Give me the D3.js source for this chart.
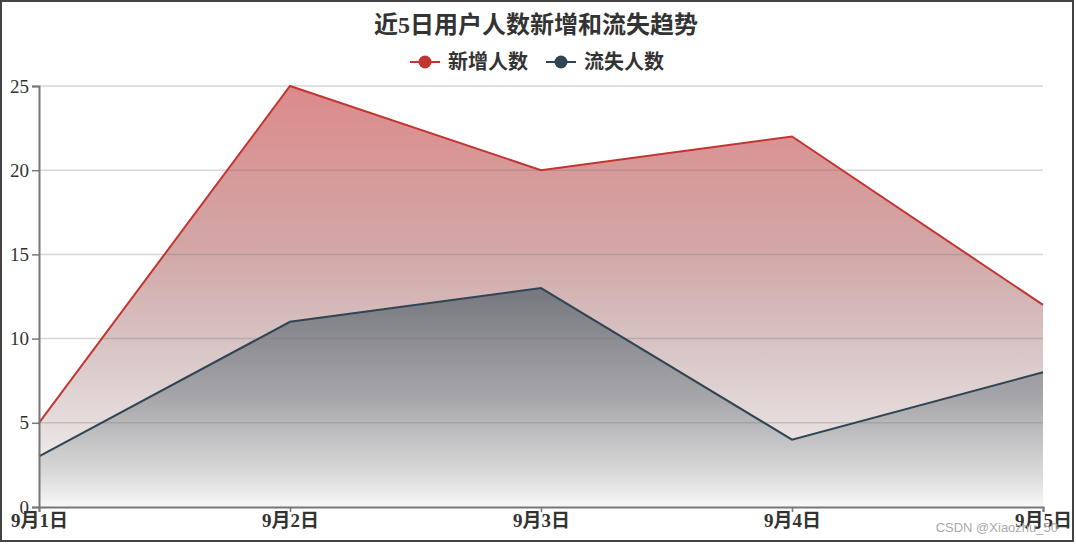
<!DOCTYPE html>
<html><head><meta charset="utf-8">
<script src="https://cdn.jsdelivr.net/npm/d3@7"></script>
<style>html,body{margin:0;padding:0;background:#fff;}svg{display:block;}</style>
</head><body>
<svg id="c" width="1076" height="544"></svg>
<script>
const categories = ["9月1日","9月2日","9月3日","9月4日","9月5日"];
const newUsers = [5,25,20,22,12];
const lostUsers = [3,11,13,4,8];
const yTicks = [0,5,10,15,20,25];
const seriesNames = ["新增人数","流失人数"];
const titleText = "近5日用户人数新增和流失趋势";

const svg = d3.select("#c");
const W = 1076, H = 544;
const m = {l:39, r:33, t:86, b:37};
const serif = "'Liberation Serif','Times New Roman','Noto Sans CJK SC',serif";

const x = d3.scalePoint().domain(categories).range([m.l, W-m.r]);
const y = d3.scaleLinear().domain([0,25]).range([H-m.b, m.t]);

const defs = svg.append("defs");
function grad(id, stops){
  const g = defs.append("linearGradient").attr("id",id).attr("x1",0).attr("y1",0).attr("x2",0).attr("y2",1);
  stops.forEach(s=>g.append("stop").attr("offset",s[0]).attr("stop-color",s[1]));
}
grad("gRed",[["0%","rgb(220,138,138)"],["40%","rgb(210,168,168)"],["60%","rgb(215,194,194)"],["80%","rgb(229,220,220)"],["100%","rgb(251,250,250)"]]);
grad("gDark",[["0%","rgb(118,119,126)"],["50%","rgb(166,166,170)"],["85%","rgb(218,218,218)"],["100%","rgb(248,248,248)"]]);

// frame
svg.append("rect").attr("x",1).attr("y",1).attr("width",W-4).attr("height",H-4)
  .attr("fill","none").attr("stroke","#444").attr("stroke-width",2);

const area = d3.area().x((d,i)=>x(categories[i])).y0(y(0)).y1(d=>y(d));
const line = d3.line().x((d,i)=>x(categories[i])).y(d=>y(d));

svg.append("path").datum(newUsers).attr("d",area).attr("fill","url(#gRed)");
svg.append("path").datum(lostUsers).attr("d",area).attr("fill","url(#gDark)");

// grid
svg.append("g").selectAll("line").data(yTicks.filter(t=>t>0)).join("line")
  .attr("x1",m.l).attr("x2",W-m.r).attr("y1",d=>y(d)).attr("y2",d=>y(d))
  .attr("stroke","#777").attr("stroke-opacity",0.3).attr("stroke-width",1.5);

svg.append("path").datum(newUsers).attr("d",line).attr("fill","none").attr("stroke","#c23531").attr("stroke-width",2);
svg.append("path").datum(lostUsers).attr("d",line).attr("fill","none").attr("stroke","#2f4554").attr("stroke-width",2);

// axes
const yAxis = svg.append("g").attr("transform",`translate(${m.l},0)`)
  .call(d3.axisLeft(y).tickValues(yTicks).tickSize(7).tickPadding(3));
const xAxis = svg.append("g").attr("transform",`translate(0,${H-m.b})`)
  .call(d3.axisBottom(x).tickSize(5).tickPadding(2));
[yAxis,xAxis].forEach(a=>{
  a.select(".domain").attr("stroke","#777").attr("stroke-width",2);
  a.selectAll(".tick line").attr("stroke","#777").attr("stroke-width",1.5);
  a.selectAll("text").attr("fill","#333").style("font-family",serif);
});
yAxis.selectAll("text").style("font-size","19px");
xAxis.selectAll("text").style("font-size","19px").style("font-weight","bold");

// title
svg.append("text").attr("x",536).attr("y",33).attr("text-anchor","middle")
  .style("font-family",serif).style("font-size","24px").style("font-weight","bold").attr("fill","#333")
  .text(titleText);

// legend
const colors = ["#c23531","#2f4554"];
const legX = [410, 546];
seriesNames.forEach((n,i)=>{
  const g = svg.append("g").attr("transform",`translate(${legX[i]},62)`);
  g.append("line").attr("x1",0).attr("x2",30).attr("stroke",colors[i]).attr("stroke-width",2);
  g.append("circle").attr("cx",15).attr("r",6.5).attr("fill",colors[i]);
  g.append("text").attr("x",38).attr("y",7).style("font-family",serif).style("font-size","20px")
    .style("font-weight","bold").attr("fill","#333").text(n);
});

// watermark
svg.append("text").attr("x",1058).attr("y",532).attr("text-anchor","end")
  .style("font-family","'Liberation Sans',Arial,sans-serif").style("font-size","13px")
  .attr("fill","#aaa").text("CSDN @Xiaozhu_50");
</script>
</body></html>
